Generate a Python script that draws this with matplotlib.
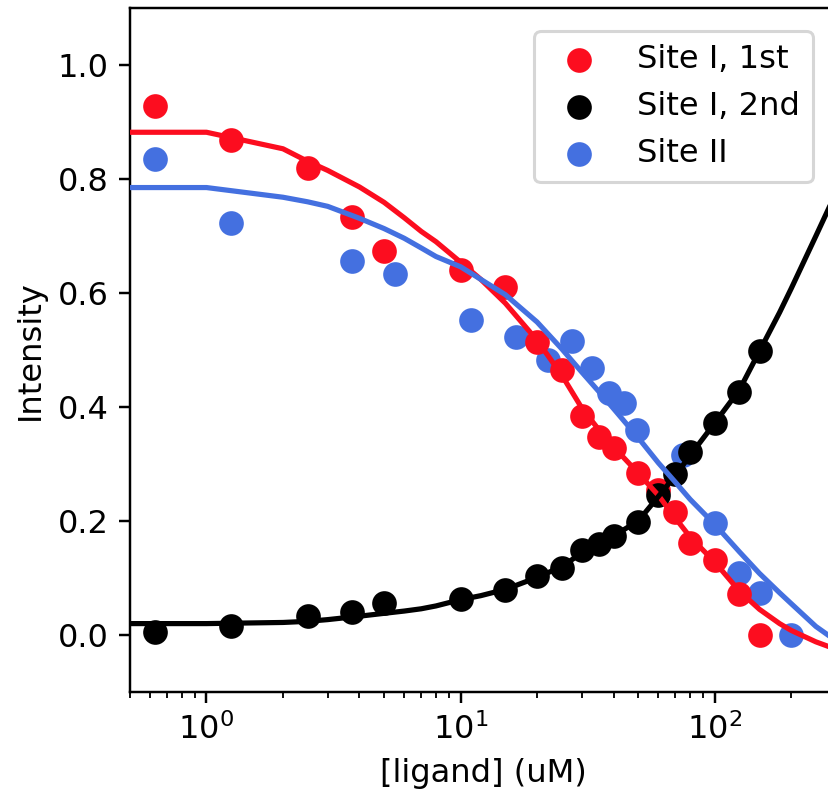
import matplotlib
matplotlib.use("Agg")
import matplotlib.pyplot as plt
import numpy as np

# measured points
conc_site1 = [0.625, 1.25, 2.5, 3.75, 5, 10, 15, 20, 25, 30, 35, 40, 50, 60, 70, 80, 100, 125, 150]
site1_first = [0.928, 0.869, 0.819, 0.733, 0.674, 0.641, 0.610, 0.514, 0.465, 0.384, 0.347, 0.328,
               0.284, 0.254, 0.215, 0.161, 0.132, 0.072, 0.0]
site1_second = [0.005, 0.015, 0.033, 0.040, 0.056, 0.064, 0.079, 0.103, 0.118, 0.149, 0.160, 0.174,
                0.199, 0.246, 0.282, 0.321, 0.372, 0.426, 0.498]

conc_site2 = [0.625, 1.25, 3.75, 5.5, 11, 16.5, 22, 27.5, 33, 38.5, 44, 49.5, 75, 100, 125, 150, 200]
site2 = [0.835, 0.723, 0.656, 0.633, 0.553, 0.523, 0.482, 0.516, 0.468, 0.424, 0.407, 0.360,
         0.316, 0.196, 0.109, 0.074, 0.0]

# fitted curves
fit_x = [0.5, 1, 2, 2.5, 3, 4, 5, 6, 7, 8, 10, 12, 15, 20, 25, 30, 35, 40, 50, 60, 70, 80,
         100, 125, 150, 180, 200, 250, 300]
fit_first = [0.882, 0.882, 0.853, 0.831, 0.815, 0.786, 0.759, 0.732, 0.708, 0.690, 0.654, 0.624,
             0.582, 0.517, 0.456, 0.398, 0.360, 0.330, 0.284, 0.245, 0.205, 0.172,
             0.128, 0.077, 0.045, 0.020, 0.008, -0.012, -0.025]
fit_second = [0.020, 0.020, 0.022, 0.024, 0.027, 0.033, 0.038, 0.042, 0.046, 0.051, 0.062, 0.069,
              0.080, 0.101, 0.120, 0.144, 0.160, 0.174, 0.200, 0.243, 0.280, 0.315,
              0.372, 0.430, 0.498, 0.566, 0.608, 0.700, 0.776]
fit_site2 = [0.785, 0.785, 0.768, 0.760, 0.752, 0.731, 0.713, 0.696, 0.679, 0.664, 0.646, 0.624,
             0.597, 0.549, 0.502, 0.461, 0.427, 0.397, 0.346, 0.302, 0.268, 0.238,
             0.194, 0.146, 0.108, 0.074, 0.055, 0.015, -0.010]

red = "#fc0d1f"
blue = "#4470e0"

plt.rcParams["font.size"] = 10.5

fig = plt.figure(figsize=(828 / 220, 797 / 220), dpi=220)
ax = fig.add_axes([130 / 828, 105 / 797, 706 / 828, 684 / 797])

ax.scatter(conc_site1, site1_first, s=50, color=red, label="Site I, 1st", zorder=2)
ax.scatter(conc_site1, site1_second, s=50, color="black", label="Site I, 2nd", zorder=3)
ax.scatter(conc_site2, site2, s=50, color=blue, label="Site II", zorder=1)

ax.plot(fit_x, fit_first, color=red, lw=1.7, zorder=4)
ax.plot(fit_x, fit_second, color="black", lw=1.7, zorder=4)
ax.plot(fit_x, fit_site2, color=blue, lw=1.7, zorder=4)

ax.set_xscale("log")
ax.set_xlim(0.5, 300)
ax.set_ylim(-0.1, 1.1)
ax.set_yticks([0.0, 0.2, 0.4, 0.6, 0.8, 1.0])
ax.set_xlabel("[ligand] (uM)")
ax.set_ylabel("Intensity")
ax.legend(loc="upper right", bbox_to_anchor=(0.967, 0.966), borderaxespad=0)

fig.savefig("out.png", dpi=220)
